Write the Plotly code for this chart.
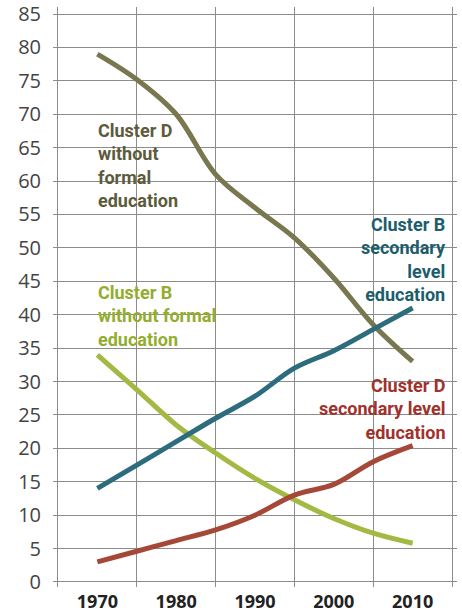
import plotly.graph_objects as go

years = [1970, 1975, 1980, 1985, 1990, 1995, 2000, 2005, 2010]
d_without = [79, 75.2, 70, 61, 56, 51.5, 45.5, 38.5, 33]
b_without = [34, 28.8, 23.5, 19.3, 15.5, 12.3, 9.5, 7.3, 5.8]
b_secondary = [14, 17.5, 21, 24.5, 27.8, 32, 34.6, 37.8, 41]
d_secondary = [3, 4.6, 6.2, 7.8, 10, 13, 14.6, 18, 20.4]

x_ticks = [1970, 1980, 1990, 2000, 2010]
y_ticks = list(range(0, 90, 5))

series = [
    ("Cluster D without formal education", d_without, "#78774f"),
    ("Cluster B without formal education", b_without, "#a2b944"),
    ("Cluster B secondary level education", b_secondary, "#2c6c7c"),
    ("Cluster D secondary level education", d_secondary, "#a64838"),
]

fig = go.Figure()
for name, vals, col in series:
    fig.add_trace(go.Scatter(
        x=years, y=vals, mode="lines", name=name,
        line=dict(color=col, width=5, shape="spline", smoothing=1.0),
        hoverinfo="x+y",
    ))

lab_font = "Roboto, sans-serif"
annos = [
    ("Cluster D<br>without<br>formal<br>education", 1969.8, 62.3, "left", "#5c5b3b"),
    ("Cluster B<br>without formal<br>education", 1969.8, 39.8, "left", "#93ad2e"),
    ("Cluster B<br>secondary<br>level<br>education", 2014.5, 48.3, "right", "#1c5d6c"),
    ("Cluster D<br>secondary level<br>education", 2014.5, 25.9, "right", "#a2302b"),
]
for txt, ax, ay, anc, col in annos:
    fig.add_annotation(
        x=ax, y=ay, text="<b>" + txt + "</b>", showarrow=False,
        xanchor=anc, yanchor="middle", align=anc,
        font=dict(family=lab_font, size=18, color=col),
    )

grid_col = "#8c8c8c"
fig.update_layout(
    width=462, height=614,
    margin=dict(l=53, r=5, t=7, b=27),
    paper_bgcolor="white", plot_bgcolor="white",
    showlegend=False,
    xaxis=dict(
        range=[1964.37, 2015.63], automargin=False,
        tickvals=x_ticks, ticktext=[str(v) for v in x_ticks],
        showgrid=False, zeroline=False, showline=False, ticks="",
        tickfont=dict(family="Open Sans, sans-serif", size=18, color="#222222", weight="bold"),
        ticklabelstandoff=2,
        minor=dict(tick0=1965, dtick=10, showgrid=True, gridcolor=grid_col, gridwidth=1.3, ticks=""),
    ),
    yaxis=dict(
        range=[-0.75, 86.05], automargin=False,
        tickvals=y_ticks,
        showgrid=True, gridcolor=grid_col, gridwidth=1.3,
        zeroline=False, showline=False, ticks="",
        tickfont=dict(family="Open Sans, sans-serif", size=20, color="#444444"),
        ticklabelstandoff=11, ticklabeloverflow="allow",
    ),
)

fig.write_html("out.html", config={"displayModeBar": False},
               post_script="document.body.style.margin='0';")
